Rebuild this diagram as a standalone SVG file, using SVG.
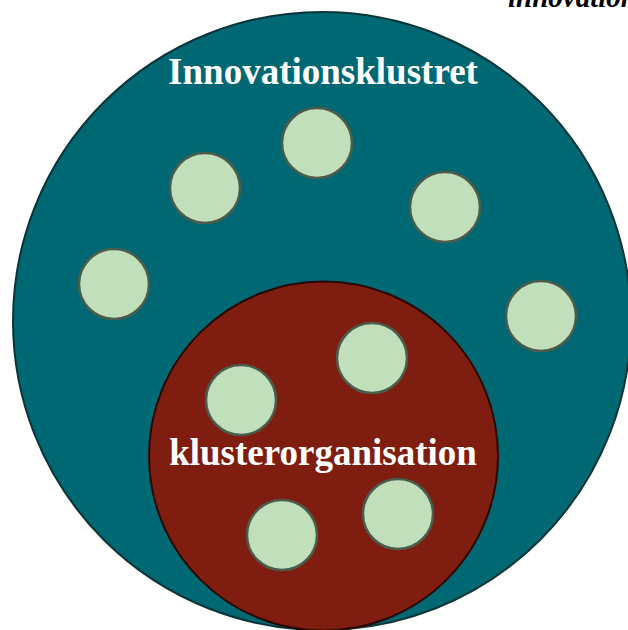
<svg xmlns="http://www.w3.org/2000/svg" width="628" height="630" viewBox="0 0 628 630">
<style>
.lbl{font-family:"Liberation Serif","Times New Roman",serif;font-weight:bold;fill:#ffffff;font-size:37px;text-anchor:middle}
.m{fill:#c2dfbc;stroke:#4c5c4c;stroke-width:2.5}
</style>
<rect width="628" height="630" fill="#ffffff"/>
<text x="508" y="7" style="font-family:'Liberation Serif','Times New Roman',serif;font-weight:bold;font-style:italic;font-size:29px;fill:#000">innovation</text>
<g id="cluster">
<circle cx="322" cy="321" r="309" fill="#006872" stroke="#0a3438" stroke-width="2"/>
<text class="lbl" x="323" y="84">Innovationsklustret</text>
</g>
<g id="org">
<circle cx="323.5" cy="456" r="174.5" fill="#7f1d10" stroke="#2a0805" stroke-width="2"/>
<text class="lbl" x="323" y="465">klusterorganisation</text>
</g>
<g id="m1"><circle class="m" cx="317" cy="143" r="35"/></g>
<g id="m2"><circle class="m" cx="205" cy="188" r="35"/></g>
<g id="m3"><circle class="m" cx="445" cy="207" r="35"/></g>
<g id="m4"><circle class="m" cx="114" cy="284" r="35"/></g>
<g id="m5"><circle class="m" cx="541" cy="316" r="35"/></g>
<g id="m6"><circle class="m" cx="372" cy="358" r="35"/></g>
<g id="m7"><circle class="m" cx="241" cy="400" r="35"/></g>
<g id="m8"><circle class="m" cx="398" cy="514" r="35"/></g>
<g id="m9"><circle class="m" cx="282" cy="535" r="35"/></g>
<g id="connectors"></g>
</svg>
